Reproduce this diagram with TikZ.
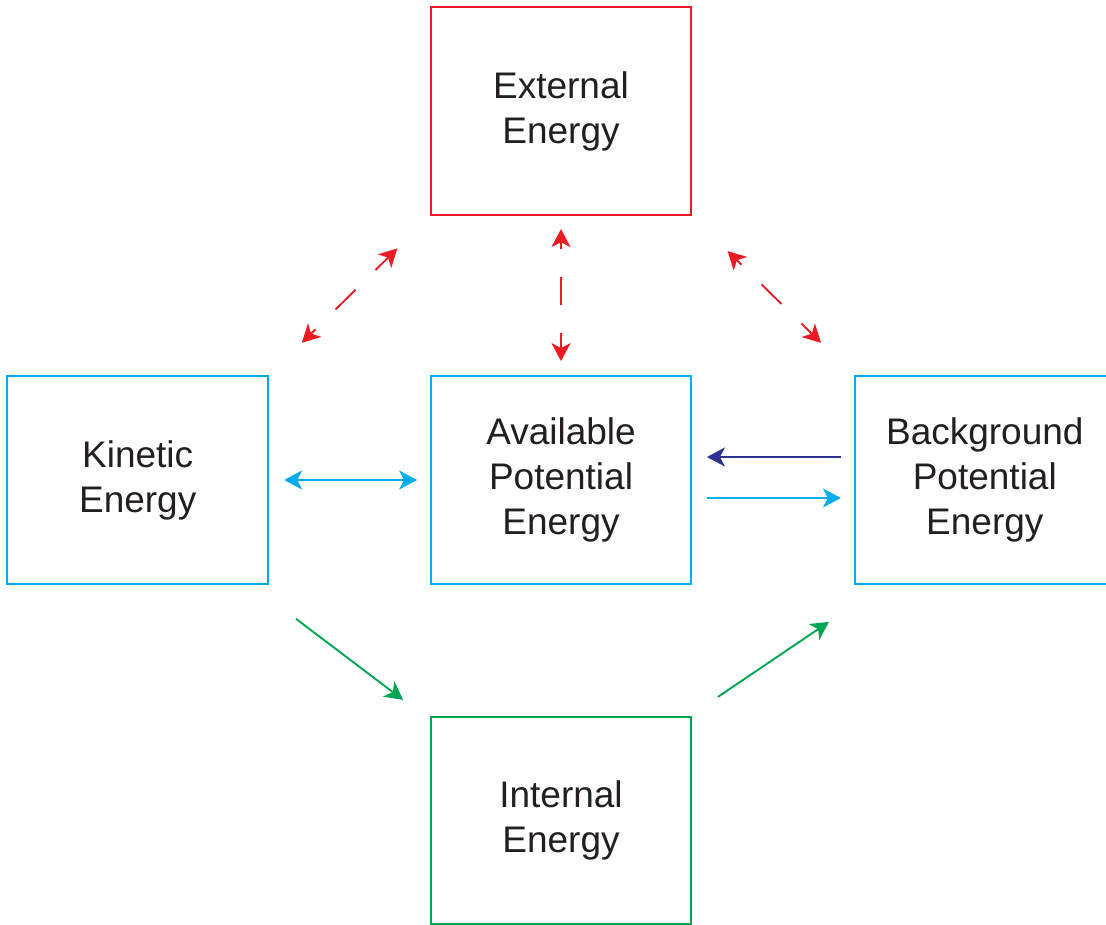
\documentclass[tikz,border=0pt]{standalone}
\usepackage{fontspec}
\setmainfont{Liberation Sans}
\usetikzlibrary{arrows.meta, positioning, calc}

\definecolor{extred}{RGB}{237,28,36}
\definecolor{apecyan}{RGB}{0,174,239}
\definecolor{bpeblue}{RGB}{46,49,146}
\definecolor{intgreen}{RGB}{0,166,81}
\definecolor{txtgray}{RGB}{35,31,32}

\begin{document}
\begin{tikzpicture}[
    x=1pt, y=-1pt,
    box/.style={rectangle, draw=apecyan, line width=1.8pt, fill=white,
                minimum width=260pt, minimum height=208pt, inner sep=0pt,
                align=center, text=txtgray,
                font=\fontsize{37pt}{45pt}\selectfont},
    extbox/.style={box, draw=extred},
    intbox/.style={box, draw=intgreen},
    arr/.style={-{Stealth[length=18pt, width=19pt, inset=5pt]}, line width=1.9pt},
    darr/.style={{Stealth[length=18pt, width=19pt, inset=5pt]}-{Stealth[length=18pt, width=19pt, inset=5pt]}, line width=1.9pt},
    exch/.style={darr, extred, dash pattern=on 28pt off 28pt, dash phase=21pt},
  ]
    \useasboundingbox (0,0) rectangle (1106,925);
    \clip (0,0) rectangle (1106,925);

    \node[box] (ape) at (561,480) {Available\\ Potential\\ Energy};
    \node[box, minimum width=261pt, left=161pt of ape] (kin) {Kinetic\\ Energy};
    \node[box, right=162pt of ape] (bpe) {Background\\ Potential\\ Energy};
    \node[extbox, above=159pt of ape] (ext) {External\\ Energy};
    \node[intbox, minimum height=207pt, below=131pt of ape] (int) {Internal\\ Energy};

    % exchanges with the outside
    \draw[exch, shorten <=46pt, shorten >=46pt] (kin.north east) -- (ext.south west);
    \draw[exch, shorten <=13pt, shorten >=14pt] (ext.south) -- (ape.north);
    \draw[exch, shorten <=50pt, shorten >=46pt] (ext.south east) -- (bpe.north west);

    % reversible and mixing terms
    \draw[darr, apecyan, shorten <=15pt, shorten >=13pt] (kin.east) -- (ape.west);
    \draw[arr, bpeblue, shorten <=13pt, shorten >=15pt]
        ([yshift=23pt]bpe.west) -- ([yshift=23pt]ape.east);
    \draw[arr, apecyan, shorten <=15pt, shorten >=13pt]
        ([yshift=-18pt]ape.east) -- ([yshift=-18pt]bpe.west);

    % dissipation
    \draw[arr, intgreen] ($(kin.south east)+(27,34)$) -- ($(int.north west)+(-27,-16)$);
    \draw[arr, intgreen] ($(int.north east)+(26,-19)$) -- ($(bpe.south west)+(-25,37)$);
  \end{tikzpicture}
\end{document}
